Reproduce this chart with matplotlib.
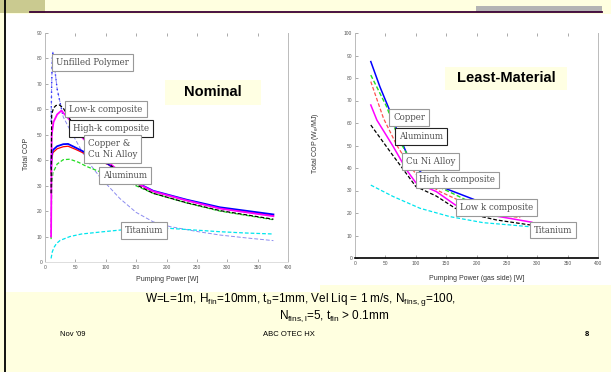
import matplotlib
matplotlib.use('Agg')
import matplotlib.pyplot as plt
from matplotlib.patches import Rectangle

plt.rcParams['font.family'] = ['Liberation Sans', 'DejaVu Sans']
plt.rcParams['mathtext.fontset'] = 'custom'
plt.rcParams['mathtext.rm'] = 'Liberation Sans'
plt.rcParams['mathtext.it'] = 'Liberation Sans:italic'

# ---- Nominal case: pumping power [W] vs total COP ----
nom_poly_x = [10, 11, 12, 13, 16, 20, 25, 30, 41, 55, 69, 90, 123, 150, 178, 206, 250, 288, 330, 376]
nom_poly_y = [55, 70, 80, 82.5, 76, 68, 62.5, 57, 52, 46, 40, 33.5, 25, 19.5, 15.8, 13.9, 12, 10.6, 9.5, 8.4]

nom_lowk_x = [10, 11, 14, 18, 24, 30, 40, 55, 69, 85, 104, 140, 178, 233, 288, 376]
nom_lowk_y = [27, 58, 60.5, 61.5, 61.7, 60.5, 56.5, 51, 47.5, 43.2, 38.8, 31.6, 27, 23.3, 20.2, 16.8]

nom_highk_x = [10, 11, 14, 20, 27, 40, 55, 69, 85, 104, 140, 178, 233, 288, 376]
nom_highk_y = [10, 50, 55, 58, 59.5, 56, 50.5, 47, 43, 39.2, 32.3, 27.8, 24.2, 21, 18]

nom_cu_x = [10, 11, 13, 20, 30, 38, 50, 69, 85, 104, 140, 178, 233, 288, 376]
nom_cu_y = [37, 42, 44, 45.5, 46.3, 46.4, 45, 42.7, 40.5, 38.5, 32.5, 28, 24.5, 21.5, 18.7]
nom_cuni_y = [35, 40, 43, 44.5, 45.3, 45.5, 44.3, 42.2, 40.2, 38.3, 32.2, 27.8, 24.2, 21.2, 18.3]

nom_al_x = [10, 11, 13, 20, 30, 41, 55, 69, 90, 140, 178, 233, 288, 376]
nom_al_y = [9, 30, 35, 38.5, 40.2, 40.4, 39.2, 37.5, 35.5, 31, 27, 23.2, 20, 16.6]

nom_ti_x = [10, 12, 15, 19, 25, 41, 60, 96, 134, 170, 206, 250, 288, 330, 376]
nom_ti_y = [1.4, 4, 5.8, 7.3, 8.5, 10, 11, 11.9, 12.8, 13.1, 13.2, 12.5, 11.9, 11.4, 11]

# ---- Least-material case ----
lm_cu_x = [26, 41, 58, 71, 85, 107, 145, 195]
lm_cu_y = [87.3, 76.1, 65, 55.4, 46.5, 38.4, 31.3, 26.1]

lm_al_x = [26, 52, 74, 101, 143, 189, 215, 272]
lm_al_y = [81.3, 67.3, 51.7, 39.1, 31, 25, 19.6, 18.5]

lm_cuni_x = [26, 47, 69, 90, 107, 140, 184, 211, 272]
lm_cuni_y = [78.4, 62, 50, 41, 35, 29.5, 24, 19.8, 18]

lm_highk_x = [26, 36, 63, 85, 100, 134, 165, 211, 255, 291]
lm_highk_y = [68, 61.3, 49.5, 39.1, 33.5, 29.5, 23.6, 19.6, 17.6, 15.9]

lm_lowk_x = [26, 58, 90, 100, 134, 165, 189, 233, 288]
lm_lowk_y = [59.1, 47.2, 35.5, 31.8, 27.5, 22.1, 19.6, 16.9, 14.7]

lm_ti_x = [26, 63, 107, 156, 211, 255, 288]
lm_ti_y = [32.4, 27.3, 22.1, 18.4, 15.7, 14.7, 13.9]

x_ticks = list(range(0, 401, 50))
nom_y_ticks = list(range(0, 91, 10))
lm_y_ticks = list(range(0, 101, 10))

W, H = 611, 372
fig = plt.figure(figsize=(W / 100, H / 100), dpi=100)
fig.patch.set_facecolor('#FFFFE0')

# slide background decorations (pixel coordinates)
bg = fig.add_axes([0, 0, 1, 1])
bg.set_xlim(0, W)
bg.set_ylim(H, 0)
bg.axis('off')
bg.add_patch(Rectangle((5, 14), 606, 271, facecolor='white', edgecolor='none'))
bg.add_patch(Rectangle((5, 280), 315, 12, facecolor='white', edgecolor='none'))
bg.add_patch(Rectangle((0, 0), 45, 13, facecolor='#CACA90', edgecolor='none'))
bg.add_patch(Rectangle((476, 6), 126, 6, facecolor='#B4B4B4', edgecolor='none'))
bg.plot([30, 602], [12, 12], color='#3A0035', lw=1.3)
bg.plot([5, 5], [0, H], color='black', lw=1.3)

bg.text(300, 299.5, r'W=L=1m, H$_\mathrm{fin}$=10mm, t$_\mathrm{b}$=1mm, Vel Liq = 1 m/s, '
        r'N$_\mathrm{fins,g}$=100,', ha='center', va='center', fontsize=8.5)
bg.text(334, 316, r'N$_\mathrm{fins,l}$=5, t$_\mathrm{fin}$ > 0.1mm',
        ha='center', va='center', fontsize=8.5)
bg.text(60, 335, "Nov '09", ha='left', va='center', fontsize=5.5)
bg.text(289, 335, 'ABC OTEC HX', ha='center', va='center', fontsize=5.5)
bg.text(587, 335, '8', ha='center', va='center', fontsize=5.5, fontweight='bold')


def style_axes(ax, yticks, ylim):
    ax.set_xlim(0, 400)
    ax.set_ylim(*ylim)
    ax.set_xticks(x_ticks)
    ax.set_yticks(yticks)
    ax.tick_params(direction='in', length=2.5, width=0.5, colors='#888888',
                   labelsize=3.5, labelcolor='#555555', pad=2,
                   top=True, right=False)
    for s in ax.spines.values():
        s.set_color('#BBBBBB')
        s.set_linewidth(0.7)
    ax.spines['top'].set_visible(False)


label_font = dict(family=['DejaVu Serif'], fontsize=6.2, color='#505050')


def box_label(ax, x, y, text, edge='#999999'):
    ax.text(x, y, text, ha='left', va='center', zorder=5, **label_font,
            bbox=dict(boxstyle='square,pad=0.45', facecolor='white',
                      edgecolor=edge, linewidth=0.8))


# ---- left chart ----
ax1 = fig.add_axes([45 / W, 1 - 262 / H, 243 / W, 229 / H])
style_axes(ax1, nom_y_ticks, (0, 90))
ax1.spines['bottom'].set_color('#DDDDDD')
dash = (0, (3, 1.6))
ax1.plot(nom_poly_x, nom_poly_y, color='#8C8CF0', ls=(0, (4, 2)), lw=0.7)
ax1.plot(nom_poly_x[:8], nom_poly_y[:8], color='#3030FF', ls=(0, (1, 2.5)), lw=1.0)
ax1.plot(nom_al_x, nom_al_y, color='#22DD22', ls=dash, lw=0.9)
ax1.plot(nom_cu_x, nom_cuni_y, color='#FF0000', ls='-', lw=0.9)
ax1.plot(nom_cu_x, nom_cu_y, color='#0000FF', ls='-', lw=1.3)
ax1.plot(nom_highk_x, nom_highk_y, color='#FF00FF', ls='-', lw=1.3)
ax1.plot(nom_lowk_x, nom_lowk_y, color='black', ls=dash, lw=0.9)
ax1.plot(nom_ti_x, nom_ti_y, color='#00E5EE', ls=dash, lw=0.9)
ax1.set_xlabel('Pumping Power [W]', fontsize=5, color='#333333')
ax1.xaxis.set_label_coords(0.505, -0.06)
ax1.set_ylabel('Total COP', fontsize=5, color='#333333')
ax1.yaxis.set_label_coords(-0.062, 0.47)

box_label(ax1, 18, 78.4, 'Unfilled Polymer')
box_label(ax1, 40, 60.1, 'Low-k composite')
box_label(ax1, 46, 52.5, 'High-k composite', edge='#222222')
box_label(ax1, 71, 44.4, 'Copper &\nCu Ni Alloy')
box_label(ax1, 96, 34, 'Aluminum')
box_label(ax1, 132, 12.4, 'Titanium')

# ---- right chart ----
ax2 = fig.add_axes([355 / W, 1 - 258 / H, 243 / W, 225 / H])
style_axes(ax2, lm_y_ticks, (0, 100))
ax2.spines['bottom'].set_color('black')
ax2.spines['bottom'].set_linewidth(1.2)
ax2.plot(lm_cu_x, lm_cu_y, color='#0000FF', ls='-', lw=1.1)
ax2.plot(lm_al_x, lm_al_y, color='#22DD22', ls=dash, lw=1.0)
ax2.plot(lm_cuni_x, lm_cuni_y, color='#FF5050', ls=dash, lw=0.9)
ax2.plot(lm_highk_x, lm_highk_y, color='#FF00FF', ls='-', lw=1.1)
ax2.plot(lm_lowk_x, lm_lowk_y, color='black', ls=dash, lw=0.9)
ax2.plot(lm_ti_x, lm_ti_y, color='#00E5EE', ls=dash, lw=0.9)
ax2.set_xlabel('Pumping Power (gas side) [W]', fontsize=5, color='#333333')
ax2.xaxis.set_label_coords(0.5, -0.076)
ax2.set_ylabel('Total COP (W$_\\mathrm{e}$/MJ)', fontsize=5, color='#333333')
ax2.yaxis.set_label_coords(-0.14, 0.51)

box_label(ax2, 63, 62.3, 'Copper')
box_label(ax2, 73, 53.9, 'Aluminum', edge='#222222')
box_label(ax2, 84, 42.8, 'Cu Ni Alloy')
box_label(ax2, 106, 34.7, 'High k composite')
box_label(ax2, 173, 22.3, 'Low k composite')
box_label(ax2, 294, 12.4, 'Titanium')

# ---- overlay title boxes ----
ov = fig.add_axes([0, 0, 1, 1])
ov.set_xlim(0, W)
ov.set_ylim(H, 0)
ov.axis('off')
ov.patch.set_alpha(0)
ov.add_patch(Rectangle((165, 80), 96, 25, facecolor='#FFFFE3', edgecolor='none'))
ov.text(213, 92.5, 'Nominal', ha='center', va='center', fontsize=10.5, fontweight='bold')
ov.add_patch(Rectangle((445, 67), 122, 23, facecolor='#FFFFE3', edgecolor='none'))
ov.text(506, 78.5, 'Least-Material', ha='center', va='center', fontsize=10.5, fontweight='bold')

fig.savefig('out.png', dpi=100)
